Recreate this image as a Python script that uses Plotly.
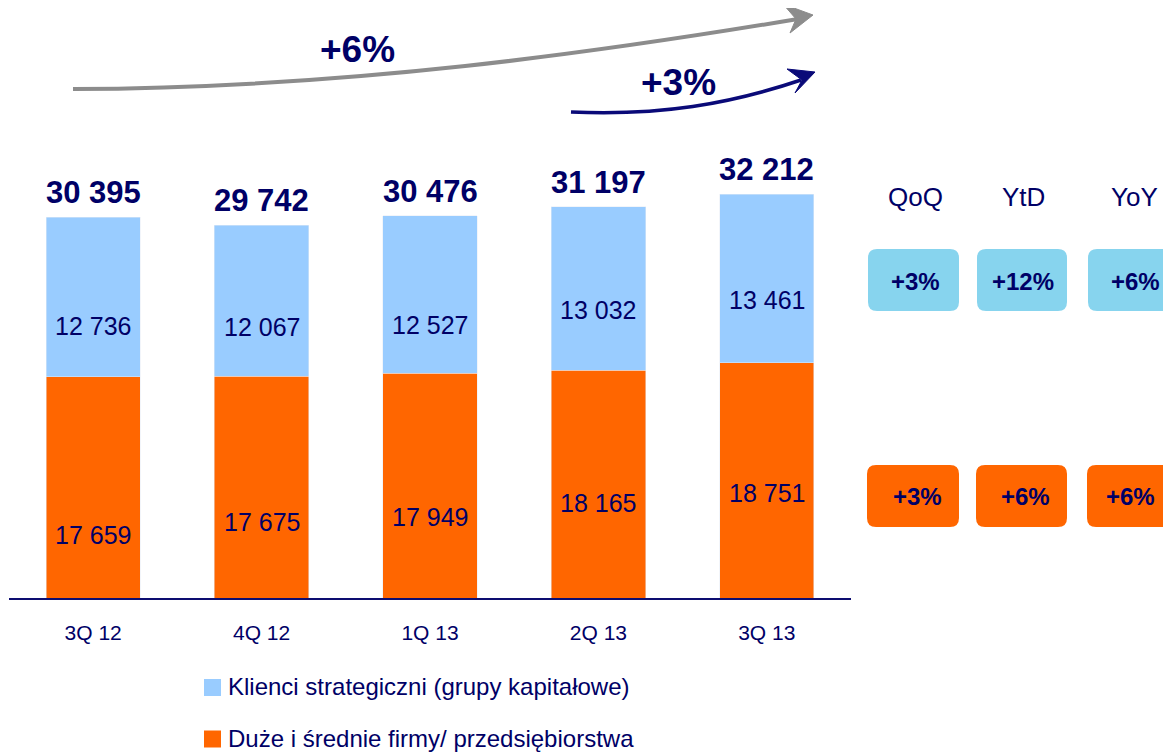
import plotly.graph_objects as go

categories = ["3Q 12", "4Q 12", "1Q 13", "2Q 13", "3Q 13"]
duze_firmy = [17659, 17675, 17949, 18165, 18751]
klienci_strategiczni = [12736, 12067, 12527, 13032, 13461]
totals = [30395, 29742, 30476, 31197, 32212]

series_names = ["Klienci strategiczni (grupy kapitałowe)", "Duże i średnie firmy/ przedsiębiorstwa"]
growth_headers = ["QoQ", "YtD", "YoY"]
growth_klienci = ["+3%", "+12%", "+6%"]
growth_duze = ["+3%", "+6%", "+6%"]
arrow_labels = ["+6%", "+3%"]

NAVY = "#000066"
BLUE = "#99CCFF"
ORANGE = "#FF6600"
BOX_BLUE = "#87D4EE"
FONT = "Liberation Sans, Arial, sans-serif"

W, H = 1171, 752
OFF = 8  # page body margin
FW, FH = W - OFF, H - OFF  # figure size that fits the visible window
L, R_EDGE, BASE = 9, 851, 598  # screen coordinates of the plot area
PW, PH = R_EDGE - L, BASE - OFF
SCALE = 0.012535  # px per unit


def fmt(v):
    return f"{v:,}".replace(",", " ")


def px(x):
    return (x - L) / PW


def py(y):
    return (BASE - y) / PH


fig = go.Figure()
fig.add_trace(go.Bar(x=categories, y=duze_firmy, marker_color=ORANGE, name=series_names[1],
                     showlegend=False, hoverinfo="skip"))
fig.add_trace(go.Bar(x=categories, y=klienci_strategiczni, marker_color=BLUE, name=series_names[0],
                     showlegend=False, hoverinfo="skip"))

# label placement fractions (layout only)
blue_frac = [0.317, 0.327, 0.306, 0.369, 0.373]
orange_frac = [0.285, 0.343, 0.36, 0.417, 0.447]

ann = []
for i, c in enumerate(categories):
    ann.append(dict(x=c, y=totals[i], xref="x", yref="y", text=f"<b>{fmt(totals[i])}</b>",
                    showarrow=False, xanchor="center", yanchor="bottom", yshift=5,
                    font=dict(size=31, color=NAVY, family=FONT)))
    ann.append(dict(x=c, y=duze_firmy[i] + blue_frac[i] * klienci_strategiczni[i], xref="x", yref="y",
                    text=fmt(klienci_strategiczni[i]), showarrow=False, xanchor="center", yanchor="middle",
                    font=dict(size=25, color=NAVY, family=FONT)))
    ann.append(dict(x=c, y=orange_frac[i] * duze_firmy[i], xref="x", yref="y",
                    text=fmt(duze_firmy[i]), showarrow=False, xanchor="center", yanchor="middle",
                    font=dict(size=25, color=NAVY, family=FONT)))

shapes = []
# Gray arrow (+6%)
shapes.append(dict(type="path", xref="paper", yref="paper",
                   path=f"M {px(73)},{py(89)} C {px(350)},{py(88)} {px(600)},{py(52)} {px(798)},{py(19)}",
                   line=dict(color="#8C8C8C", width=4)))
shapes.append(dict(type="path", xref="paper", yref="paper",
                   path=f"M {px(813)},{py(15)} L {px(783)},{py(4)} L {px(796)},{py(19)} L {px(790)},{py(33)} Z",
                   fillcolor="#8C8C8C", line=dict(color="#8C8C8C", width=1)))
# Navy arrow (+3%)
shapes.append(dict(type="path", xref="paper", yref="paper",
                   path=f"M {px(571)},{py(112)} C {px(660)},{py(116)} {px(730)},{py(104)} {px(801)},{py(80)}",
                   line=dict(color="#0A0A78", width=3.5)))
shapes.append(dict(type="path", xref="paper", yref="paper",
                   path=f"M {px(815)},{py(72)} L {px(787)},{py(69)} L {px(802)},{py(80)} L {px(795)},{py(93)} Z",
                   fillcolor="#0A0A78", line=dict(color="#0A0A78", width=1)))

ann.append(dict(x=px(357), y=py(49), xref="paper", yref="paper", text=f"<b>{arrow_labels[0]}</b>",
                showarrow=False, xanchor="center", yanchor="middle",
                font=dict(size=37, color=NAVY, family=FONT)))
ann.append(dict(x=px(678), y=py(82), xref="paper", yref="paper", text=f"<b>{arrow_labels[1]}</b>",
                showarrow=False, xanchor="center", yanchor="middle",
                font=dict(size=37, color=NAVY, family=FONT)))


def rrect(x0, y0, x1, y1, r=9):
    return (f"M {px(x0 + r)},{py(y0)} L {px(x1 - r)},{py(y0)} Q {px(x1)},{py(y0)} {px(x1)},{py(y0 + r)} "
            f"L {px(x1)},{py(y1 - r)} Q {px(x1)},{py(y1)} {px(x1 - r)},{py(y1)} "
            f"L {px(x0 + r)},{py(y1)} Q {px(x0)},{py(y1)} {px(x0)},{py(y1 - r)} "
            f"L {px(x0)},{py(y0 + r)} Q {px(x0)},{py(y0)} {px(x0 + r)},{py(y0)} Z")


col_x = [(868, 959), (977, 1067), (1088, 1180)]
hdr_cx = [916, 1023, 1134]
blue_cx = [916, 1023, 1135]
orange_cx = [917, 1025, 1130]
for j in range(3):
    ann.append(dict(x=px(hdr_cx[j]), y=py(197), xref="paper", yref="paper", text=growth_headers[j],
                    showarrow=False, xanchor="center", yanchor="middle",
                    font=dict(size=26, color=NAVY, family=FONT)))
    shapes.append(dict(type="path", xref="paper", yref="paper", path=rrect(col_x[j][0], 249, col_x[j][1], 311),
                       fillcolor=BOX_BLUE, line=dict(width=0)))
    ann.append(dict(x=px(blue_cx[j]), y=py(281), xref="paper", yref="paper", text=f"<b>{growth_klienci[j]}</b>",
                    showarrow=False, xanchor="center", yanchor="middle",
                    font=dict(size=24, color=NAVY, family=FONT)))
    shapes.append(dict(type="path", xref="paper", yref="paper", path=rrect(col_x[j][0] - 1, 465, col_x[j][1], 527),
                       fillcolor=ORANGE, line=dict(width=0)))
    ann.append(dict(x=px(orange_cx[j]), y=py(496), xref="paper", yref="paper", text=f"<b>{growth_duze[j]}</b>",
                    showarrow=False, xanchor="center", yanchor="middle",
                    font=dict(size=24, color=NAVY, family=FONT)))

# Legend (manual)
leg_y = [687.5, 739.0]
leg_col = [BLUE, ORANGE]
for k in range(2):
    shapes.append(dict(type="rect", xref="paper", yref="paper",
                       x0=px(204), x1=px(221), y0=py(leg_y[k] - 8.5), y1=py(leg_y[k] + 8.5),
                       fillcolor=leg_col[k], line=dict(width=0)))
    ann.append(dict(x=px(226), y=py(leg_y[k] - 1), xref="paper", yref="paper", text=series_names[k],
                    xanchor="left", yanchor="middle", showarrow=False,
                    font=dict(size=24, color=NAVY, family=FONT)))

fig.update_layout(
    barmode="stack",
    bargap=0.44,
    width=FW, height=FH, autosize=False,
    margin=dict(l=L - OFF, r=FW - (R_EDGE - OFF), t=0, b=FH - (BASE - OFF), pad=0),
    paper_bgcolor="white", plot_bgcolor="white",
    xaxis=dict(range=[-0.5, 4.5], showline=True, linecolor="#0D0D70", linewidth=2,
               showgrid=False, ticks="", tickfont=dict(size=21, color=NAVY, family=FONT),
               ticklabelstandoff=15, fixedrange=True),
    yaxis=dict(range=[0, PH / SCALE], visible=False, showgrid=False, zeroline=False, fixedrange=True),
    annotations=ann,
    shapes=shapes,
    showlegend=False,
)

fig.write_html("out.html", post_script="document.body.style.overflow='hidden';")
